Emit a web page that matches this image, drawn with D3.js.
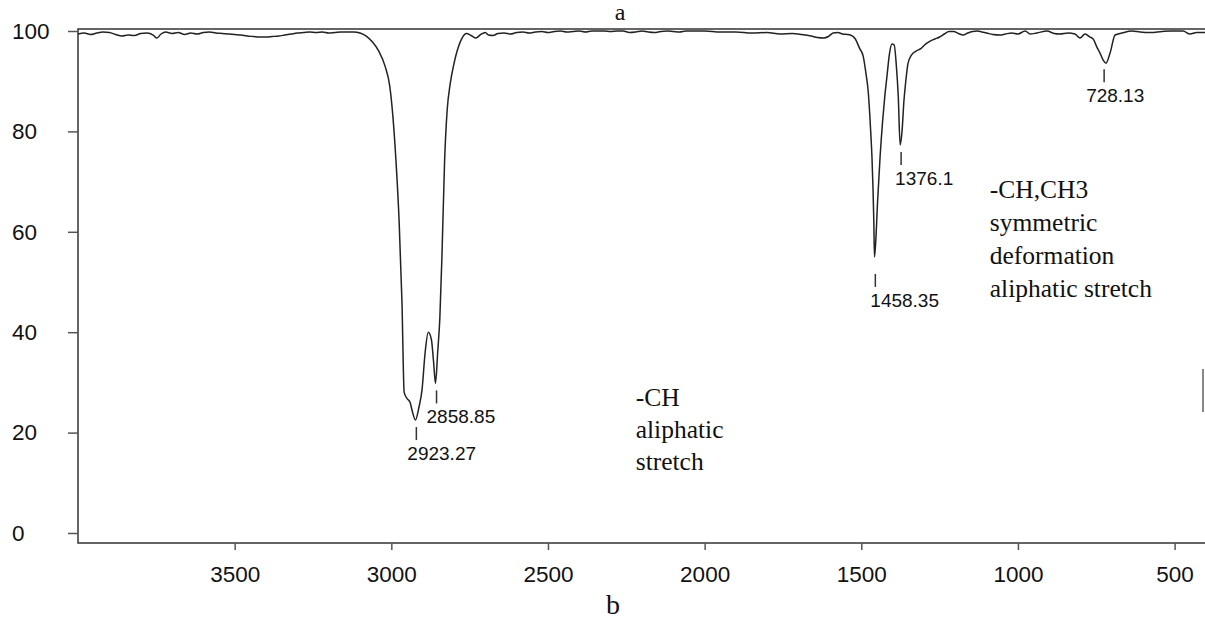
<!DOCTYPE html>
<html>
<head>
<meta charset="utf-8">
<script src="https://cdn.jsdelivr.net/npm/d3@7"></script>
<style>
  body { margin: 0; background: #fff; }
  .axis text { font-family: "Liberation Sans", Arial, sans-serif; fill: #111; }
  .peak-label { font-family: "Liberation Sans", Arial, sans-serif; font-size: 19px; fill: #111; }
  .note { font-family: "Liberation Serif", "Times New Roman", serif; font-size: 25.5px; fill: #111; }
</style>
</head>
<body>
<div id="chart"></div>
<script>
// spectrum: wavenumber (cm-1) and transmittance (%)
const waveNumbers = [4000,3980,3960,3940,3920,3900,3880,3860,3840,3820,3800,3780,3760,3748,3735,3720,3700,3680,3660,3640,3620,3600,3580,3560,3540,3520,3500,3480,3460,3440,3420,3400,3380,3360,3340,3320,3300,3280,3260,3240,3220,3200,3180,3160,3140,3120,3100,3080,3060,3040,3020,3005,2995,2985,2975,2966,2959,2950,2940,2932,2923,2912,2902,2892,2882,2872,2865,2859,2852,2845,2838,2830,2822,2812,2800,2790,2775,2760,2745,2730,2715,2700,2690,2675,2660,2640,2620,2600,2580,2560,2540,2520,2500,2480,2460,2440,2420,2400,2380,2360,2340,2320,2300,2280,2260,2240,2220,2200,2180,2160,2140,2120,2100,2080,2060,2040,2020,2000,1950,1900,1850,1800,1760,1720,1690,1660,1640,1620,1605,1590,1575,1560,1545,1535,1520,1505,1494,1485,1478,1470,1466,1460,1458,1454,1448,1440,1432,1425,1418,1410,1402,1395,1388,1382,1376,1370,1364,1358,1351,1340,1325,1310,1295,1280,1265,1250,1235,1220,1205,1190,1175,1160,1145,1130,1115,1100,1080,1057,1040,1020,1000,977,961,940,907,885,866,840,818,802,786,770,760,748,738,728,719,706,690,668,636,610,578,540,510,473,451,430,403];
const transmittance = [99.4,99.6,99.3,99.6,99.8,99.7,99.3,99.0,99.2,99.1,99.5,99.6,99.2,98.6,99.4,99.8,99.5,99.7,99.3,99.6,99.4,99.7,99.8,99.6,99.5,99.4,99.3,99.2,99.0,98.9,98.8,98.8,98.9,99.0,99.2,99.4,99.6,99.7,99.8,99.7,99.8,99.6,99.7,99.8,99.8,99.8,99.6,99.0,97.8,96.0,93.0,89.0,83.0,74.0,62.0,46.0,28.0,26.8,26.0,24.0,22.5,25.0,28.5,36.0,40.0,38.5,34.0,29.8,36.0,43.0,56.0,74.0,84.0,89.5,93.5,96.0,98.5,99.5,99.1,98.6,99.3,99.7,99.2,99.1,99.5,99.6,99.4,99.7,99.8,99.6,99.8,99.9,99.7,99.9,100,99.8,99.9,100,99.8,100,100,100,99.9,100,100,99.7,99.8,100,99.8,99.7,99.9,100,99.9,99.8,100,100,100,100,99.8,99.8,99.6,99.7,99.4,99.5,99.3,99.0,98.7,98.6,98.9,99.6,99.7,99.4,99.3,99.2,98.5,96.5,95.0,91.5,88.0,80.0,75.0,62.0,55.0,58.0,66.0,75.0,82.0,87.0,91.0,95.5,97.4,97.2,93.0,87.0,77.3,80.0,86.0,90.0,93.5,95.2,96.0,96.5,97.4,98.0,98.4,98.8,99.4,99.9,99.9,99.5,99.2,99.6,99.9,100,99.8,99.6,99.3,99.2,99.4,99.6,99.4,100,99.4,99.6,100,99.5,99.4,99.6,99.4,98.6,99.4,98.8,98.4,96.8,95.6,94.2,93.6,95.6,99.2,99.6,100,99.8,99.7,99.9,100,100,99.4,99.7,99.7];

const xTicks = [3500,3000,2500,2000,1500,1000,500];
const yTicks = [0,20,40,60,80,100];

// labelled peaks
const peakWaves = [2923.27,2858.85,1458.35,1376.1,728.13];
const peakTrans = [22.5,29.8,55.0,77.3,93.6];
const peakTexts = ["2923.27","2858.85","1458.35","1376.1","728.13"];

// band assignments
const noteCH = ["-CH","aliphatic","stretch"];
const noteCH3 = ["-CH,CH3","symmetric","deformation","aliphatic stretch"];

const width = 1205;
const height = 621;

const xscale = d3.scaleLinear().domain([4000,403]).range([78,1205]);
const yscale = d3.scaleLinear().domain([0,100]).range([533,31]);

const svg = d3.select("#chart")
  .append("svg")
  .attr("width",width)
  .attr("height",height);

// plot frame (the right edge is cut off in the picture)
svg.append("rect")
  .attr("x",xscale(4000))
  .attr("y",29)
  .attr("width",1200)
  .attr("height",514)
  .attr("fill","none")
  .attr("stroke","#333")
  .attr("stroke-width",1.5);

// axes
const yaxis = svg.append("g")
  .attr("class","axis")
  .attr("transform",`translate(${xscale(4000)},0)`)
  .call(d3.axisLeft(yscale).tickValues(yTicks).tickSize(10));
yaxis.select(".domain").remove();
yaxis.selectAll("line").attr("stroke","#555").attr("stroke-width",1.5);
yaxis.selectAll("text")
  .attr("text-anchor","start")
  .attr("x",-66)
  .attr("font-size",22.5);

const xaxis = svg.append("g")
  .attr("class","axis")
  .attr("transform","translate(0,543)")
  .call(d3.axisBottom(xscale).tickValues(xTicks).tickSize(7).tickFormat(d3.format("d")));
xaxis.select(".domain").remove();
xaxis.selectAll("line").attr("stroke","#555").attr("stroke-width",1.5);
xaxis.selectAll("text")
  .attr("y",23)
  .attr("font-size",22.5);

// spectrum line
const data = waveNumbers.map((w,i)=>({w:w,t:transmittance[i]}));
const line = d3.line()
  .x(d=>xscale(d.w))
  .y(d=>yscale(d.t))
  .curve(d3.curveMonotoneX);

svg.append("path")
  .datum(data)
  .attr("d",line)
  .attr("fill","none")
  .attr("stroke","#222")
  .attr("stroke-width",1.5);

// peak markers: small tick under each minimum and its wavenumber
const peakGap = [7,7,17,7,6];
const peakDx = [-8,-9,-4,-5,-17];
const peaks = peakWaves.map((w,i)=>({w:w,t:peakTrans[i],text:peakTexts[i],gap:peakGap[i],dx:peakDx[i]}));

svg.selectAll(".peak-tick")
  .data(peaks)
  .join("line")
  .attr("class","peak-tick")
  .attr("x1",d=>xscale(d.w)+1)
  .attr("x2",d=>xscale(d.w)+1)
  .attr("y1",d=>yscale(d.t)+d.gap)
  .attr("y2",d=>yscale(d.t)+d.gap+13)
  .attr("stroke","#333")
  .attr("stroke-width",1.5);

svg.selectAll(".peak-label")
  .data(peaks)
  .join("text")
  .attr("class","peak-label")
  .attr("x",d=>xscale(d.w)+d.dx)
  .attr("y",d=>yscale(d.t)+d.gap+33)
  .text(d=>d.text);

// notes
svg.append("text")
  .attr("class","note")
  .selectAll("tspan")
  .data(noteCH)
  .join("tspan")
  .attr("x",xscale(2220))
  .attr("y",(d,i)=>406+i*32)
  .text(d=>d);

svg.append("text")
  .attr("class","note")
  .selectAll("tspan")
  .data(noteCH3)
  .join("tspan")
  .attr("x",xscale(1090))
  .attr("y",(d,i)=>198+i*33)
  .text(d=>d);

// panel letters
svg.append("text")
  .attr("class","note")
  .attr("x",620)
  .attr("y",20)
  .attr("text-anchor","middle")
  .style("font-size","24px")
  .text("a");

svg.append("text")
  .attr("class","note")
  .attr("x",613)
  .attr("y",614)
  .attr("text-anchor","middle")
  .style("font-size","28px")
  .text("b");

// stray grey bar at the right edge of the picture
svg.append("line")
  .attr("x1",1203).attr("x2",1203)
  .attr("y1",369).attr("y2",412)
  .attr("stroke","#888")
  .attr("stroke-width",2);
</script>
</body>
</html>
